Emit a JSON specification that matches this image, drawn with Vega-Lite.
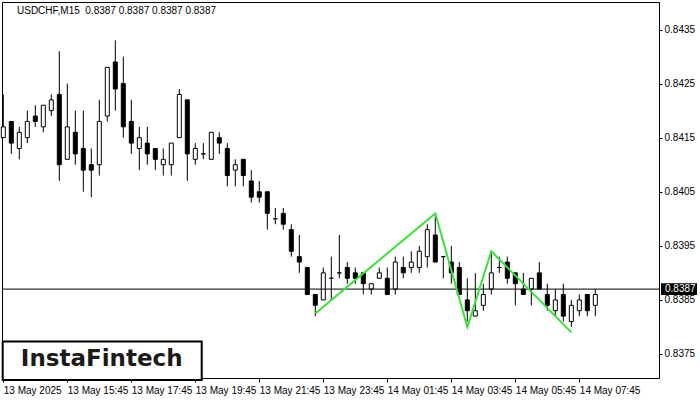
{
 "$schema": "https://vega.github.io/schema/vega-lite/v6.json",
 "width": 657,
 "height": 376,
 "autosize": {"type": "none"},
 "padding": {"left": 2, "top": 2, "right": 41, "bottom": 22},
 "background": "white",
 "title": {"text": "USDCHF,M15\u00a0 0.8387 0.8387 0.8387 0.8387", "anchor": "start", "frame": "group", "orient": "top", "offset": -14, "dx": 15, "font": "Liberation Sans", "fontSize": 10, "fontWeight": "normal", "color": "black"},
 "config": {
  "view": {"stroke": "black", "strokeWidth": 1},
  "axis": {"labelFont": "Liberation Sans", "labelFontSize": 10, "labelColor": "black", "tickColor": "black", "domain": false, "grid": false, "title": null}
 },
 "datasets": {
  "candles": [
   {"t":"2025-05-13T13:45:00Z","o":0.8415,"h":0.8423,"l":0.8415,"c":0.8417},
   {"t":"2025-05-13T14:00:00Z","o":0.8418,"h":0.8418,"l":0.8412,"c":0.8414},
   {"t":"2025-05-13T14:15:00Z","o":0.8413,"h":0.8417,"l":0.8411,"c":0.8416},
   {"t":"2025-05-13T14:30:00Z","o":0.8415,"h":0.8420,"l":0.8414,"c":0.8418},
   {"t":"2025-05-13T14:45:00Z","o":0.8419,"h":0.8421,"l":0.8417,"c":0.8418},
   {"t":"2025-05-13T15:00:00Z","o":0.8417,"h":0.8421,"l":0.8416,"c":0.8421},
   {"t":"2025-05-13T15:15:00Z","o":0.8420,"h":0.8423,"l":0.8419,"c":0.8422},
   {"t":"2025-05-13T15:30:00Z","o":0.8423,"h":0.8431,"l":0.8407,"c":0.8410},
   {"t":"2025-05-13T15:45:00Z","o":0.8411,"h":0.8425,"l":0.8411,"c":0.8417},
   {"t":"2025-05-13T16:00:00Z","o":0.8416,"h":0.8420,"l":0.8410,"c":0.8412},
   {"t":"2025-05-13T16:15:00Z","o":0.8413,"h":0.8420,"l":0.8405,"c":0.8409},
   {"t":"2025-05-13T16:30:00Z","o":0.8410,"h":0.8413,"l":0.8404,"c":0.8409},
   {"t":"2025-05-13T16:45:00Z","o":0.8410,"h":0.8422,"l":0.8408,"c":0.8418},
   {"t":"2025-05-13T17:00:00Z","o":0.8419,"h":0.8428,"l":0.8418,"c":0.8428},
   {"t":"2025-05-13T17:15:00Z","o":0.8429,"h":0.8433,"l":0.8420,"c":0.8424},
   {"t":"2025-05-13T17:30:00Z","o":0.8425,"h":0.8430,"l":0.8415,"c":0.8417},
   {"t":"2025-05-13T17:45:00Z","o":0.8418,"h":0.8422,"l":0.8412,"c":0.8414},
   {"t":"2025-05-13T18:00:00Z","o":0.8413,"h":0.8417,"l":0.8409,"c":0.8415},
   {"t":"2025-05-13T18:15:00Z","o":0.8414,"h":0.8417,"l":0.8410,"c":0.8412},
   {"t":"2025-05-13T18:30:00Z","o":0.8413,"h":0.8413,"l":0.8409,"c":0.8411},
   {"t":"2025-05-13T18:45:00Z","o":0.8410,"h":0.8413,"l":0.8408,"c":0.8411},
   {"t":"2025-05-13T19:00:00Z","o":0.8410,"h":0.8414,"l":0.8408,"c":0.8414},
   {"t":"2025-05-13T19:15:00Z","o":0.8415,"h":0.8424,"l":0.8415,"c":0.8423},
   {"t":"2025-05-13T19:30:00Z","o":0.8422,"h":0.8422,"l":0.8407,"c":0.8412},
   {"t":"2025-05-13T19:45:00Z","o":0.8411,"h":0.8414,"l":0.8410,"c":0.8413},
   {"t":"2025-05-13T20:00:00Z","o":0.8412,"h":0.8414,"l":0.8411,"c":0.8412},
   {"t":"2025-05-13T20:15:00Z","o":0.8411,"h":0.8416,"l":0.8411,"c":0.8416},
   {"t":"2025-05-13T20:30:00Z","o":0.8415,"h":0.8416,"l":0.8412,"c":0.8414},
   {"t":"2025-05-13T20:45:00Z","o":0.8413,"h":0.8414,"l":0.8406,"c":0.8408},
   {"t":"2025-05-13T21:00:00Z","o":0.8409,"h":0.8411,"l":0.8406,"c":0.8410},
   {"t":"2025-05-13T21:15:00Z","o":0.8411,"h":0.8411,"l":0.8406,"c":0.8408},
   {"t":"2025-05-13T21:30:00Z","o":0.8407,"h":0.8409,"l":0.8403,"c":0.8404},
   {"t":"2025-05-13T21:45:00Z","o":0.8405,"h":0.8407,"l":0.8403,"c":0.8404},
   {"t":"2025-05-13T22:00:00Z","o":0.8405,"h":0.8405,"l":0.8398,"c":0.8401},
   {"t":"2025-05-13T22:15:00Z","o":0.8400,"h":0.8402,"l":0.8399,"c":0.8400},
   {"t":"2025-05-13T22:30:00Z","o":0.8401,"h":0.8402,"l":0.8398,"c":0.8399},
   {"t":"2025-05-13T22:45:00Z","o":0.8398,"h":0.8399,"l":0.8393,"c":0.8394},
   {"t":"2025-05-13T23:00:00Z","o":0.8393,"h":0.8397,"l":0.8390,"c":0.8392},
   {"t":"2025-05-13T23:15:00Z","o":0.8391,"h":0.8391,"l":0.8386,"c":0.8386},
   {"t":"2025-05-13T23:30:00Z","o":0.8386,"h":0.8386,"l":0.8382,"c":0.8384},
   {"t":"2025-05-13T23:45:00Z","o":0.8385,"h":0.8391,"l":0.8385,"c":0.8390},
   {"t":"2025-05-14T00:00:00Z","o":0.8389,"h":0.8393,"l":0.8385,"c":0.8389},
   {"t":"2025-05-14T00:15:00Z","o":0.8390,"h":0.8397,"l":0.8389,"c":0.8390},
   {"t":"2025-05-14T00:30:00Z","o":0.8391,"h":0.8392,"l":0.8388,"c":0.8389},
   {"t":"2025-05-14T00:45:00Z","o":0.8390,"h":0.8391,"l":0.8388,"c":0.8389},
   {"t":"2025-05-14T01:00:00Z","o":0.8390,"h":0.8390,"l":0.8386,"c":0.8388},
   {"t":"2025-05-14T01:15:00Z","o":0.8387,"h":0.8388,"l":0.8386,"c":0.8388},
   {"t":"2025-05-14T01:30:00Z","o":0.8389,"h":0.8391,"l":0.8389,"c":0.8390},
   {"t":"2025-05-14T01:45:00Z","o":0.8389,"h":0.8391,"l":0.8386,"c":0.8386},
   {"t":"2025-05-14T02:00:00Z","o":0.8387,"h":0.8393,"l":0.8386,"c":0.8392},
   {"t":"2025-05-14T02:15:00Z","o":0.8391,"h":0.8393,"l":0.8389,"c":0.8390},
   {"t":"2025-05-14T02:30:00Z","o":0.8391,"h":0.8394,"l":0.8390,"c":0.8392},
   {"t":"2025-05-14T02:45:00Z","o":0.8391,"h":0.8395,"l":0.8390,"c":0.8394},
   {"t":"2025-05-14T03:00:00Z","o":0.8393,"h":0.8399,"l":0.8391,"c":0.8398},
   {"t":"2025-05-14T03:15:00Z","o":0.8397,"h":0.8401,"l":0.8392,"c":0.8392},
   {"t":"2025-05-14T03:30:00Z","o":0.8393,"h":0.8393,"l":0.8389,"c":0.8393},
   {"t":"2025-05-14T03:45:00Z","o":0.8392,"h":0.8395,"l":0.8388,"c":0.8390},
   {"t":"2025-05-14T04:00:00Z","o":0.8391,"h":0.8392,"l":0.8386,"c":0.8386},
   {"t":"2025-05-14T04:15:00Z","o":0.8385,"h":0.8389,"l":0.8381,"c":0.8383},
   {"t":"2025-05-14T04:30:00Z","o":0.8382,"h":0.8390,"l":0.8382,"c":0.8383},
   {"t":"2025-05-14T04:45:00Z","o":0.8384,"h":0.8388,"l":0.8383,"c":0.8386},
   {"t":"2025-05-14T05:00:00Z","o":0.8387,"h":0.8394,"l":0.8386,"c":0.8390},
   {"t":"2025-05-14T05:15:00Z","o":0.8391,"h":0.8393,"l":0.8390,"c":0.8391},
   {"t":"2025-05-14T05:30:00Z","o":0.8392,"h":0.8393,"l":0.8388,"c":0.8389},
   {"t":"2025-05-14T05:45:00Z","o":0.8390,"h":0.8390,"l":0.8384,"c":0.8388},
   {"t":"2025-05-14T06:00:00Z","o":0.8387,"h":0.8390,"l":0.8386,"c":0.8386},
   {"t":"2025-05-14T06:15:00Z","o":0.8387,"h":0.8389,"l":0.8384,"c":0.8389},
   {"t":"2025-05-14T06:30:00Z","o":0.8390,"h":0.8392,"l":0.8387,"c":0.8387},
   {"t":"2025-05-14T06:45:00Z","o":0.8386,"h":0.8388,"l":0.8383,"c":0.8384},
   {"t":"2025-05-14T07:00:00Z","o":0.8383,"h":0.8387,"l":0.8382,"c":0.8385},
   {"t":"2025-05-14T07:15:00Z","o":0.8386,"h":0.8388,"l":0.8381,"c":0.8382},
   {"t":"2025-05-14T07:30:00Z","o":0.8381,"h":0.8385,"l":0.8380,"c":0.8384},
   {"t":"2025-05-14T07:45:00Z","o":0.8383,"h":0.8386,"l":0.8382,"c":0.8385},
   {"t":"2025-05-14T08:00:00Z","o":0.8386,"h":0.8386,"l":0.8382,"c":0.8383},
   {"t":"2025-05-14T08:15:00Z","o":0.8384,"h":0.8387,"l":0.8382,"c":0.8386}
  ],
  "pattern": [
   {"t":"2025-05-13T23:30:00Z","p":0.83825},
   {"t":"2025-05-14T03:15:00Z","p":0.8401},
   {"t":"2025-05-14T04:15:00Z","p":0.8380},
   {"t":"2025-05-14T05:00:00Z","p":0.8394},
   {"t":"2025-05-14T07:30:00Z","p":0.8379}
  ],
  "one": [{}]
 },
 "layer": [
  {
   "data": {"name": "candles"},
   "mark": {"type": "rule", "color": "black", "strokeWidth": 1},
   "encoding": {
    "x": {"field": "t", "type": "temporal",
     "scale": {"type": "utc", "padding": 0, "domain": [
      {"year": 2025, "month": 5, "date": 13, "hours": 13, "minutes": 42, "seconds": 34, "utc": true},
      {"year": 2025, "month": 5, "date": 14, "hours": 10, "minutes": 14, "seconds": 24, "utc": true}]},
     "axis": {
      "values": [
       {"year": 2025, "month": 5, "date": 13, "hours": 13, "minutes": 45, "utc": true},
       {"year": 2025, "month": 5, "date": 13, "hours": 15, "minutes": 45, "utc": true},
       {"year": 2025, "month": 5, "date": 13, "hours": 17, "minutes": 45, "utc": true},
       {"year": 2025, "month": 5, "date": 13, "hours": 19, "minutes": 45, "utc": true},
       {"year": 2025, "month": 5, "date": 13, "hours": 21, "minutes": 45, "utc": true},
       {"year": 2025, "month": 5, "date": 13, "hours": 23, "minutes": 45, "utc": true},
       {"year": 2025, "month": 5, "date": 14, "hours": 1, "minutes": 45, "utc": true},
       {"year": 2025, "month": 5, "date": 14, "hours": 3, "minutes": 45, "utc": true},
       {"year": 2025, "month": 5, "date": 14, "hours": 5, "minutes": 45, "utc": true},
       {"year": 2025, "month": 5, "date": 14, "hours": 7, "minutes": 45, "utc": true}],
      "labelExpr": "utcFormat(datum.value, '%d %H:%M') == '13 13:45' ? '13 May 2025' : utcFormat(datum.value, '%d %b %H:%M')",
      "tickSize": 4, "labelAlign": "left", "labelBaseline": "top", "labelPadding": 3, "labelOverlap": false, "labelFlush": false, "labelBound": false
     }},
    "y": {"field": "l", "type": "quantitative",
     "scale": {"domain": [0.837056, 0.844009], "zero": false, "nice": false, "padding": 0},
     "axis": {"orient": "right", "values": [0.8375, 0.8385, 0.8395, 0.8405, 0.8415, 0.8425, 0.8435], "format": ".4f", "tickSize": 3, "labelPadding": 2}},
    "y2": {"field": "h"}
   }
  },
  {
   "data": {"name": "candles"},
   "mark": {"type": "bar", "width": 4, "stroke": "black", "strokeWidth": 1},
   "encoding": {
    "x": {"field": "t", "type": "temporal"},
    "y": {"field": "o", "type": "quantitative"},
    "y2": {"field": "c"},
    "fill": {"condition": {"test": "datum.c >= datum.o", "value": "white"}, "value": "black"}
   }
  },
  {
   "data": {"name": "one"},
   "mark": {"type": "rule", "color": "black", "strokeWidth": 1},
   "encoding": {"y": {"datum": 0.8387, "type": "quantitative"}}
  },
  {
   "data": {"name": "pattern"},
   "mark": {"type": "line", "color": "#3ae23a", "strokeWidth": 2},
   "encoding": {
    "x": {"field": "t", "type": "temporal"},
    "y": {"field": "p", "type": "quantitative"}
   }
  },
  {
   "data": {"name": "one"},
   "mark": {"type": "rect", "fill": "white", "stroke": "black", "strokeWidth": 2},
   "encoding": {
    "x": {"datum": {"year": 2025, "month": 5, "date": 13, "hours": 13, "minutes": 43, "seconds": 53, "utc": true}, "type": "temporal"},
    "x2": {"datum": {"year": 2025, "month": 5, "date": 13, "hours": 19, "minutes": 57, "utc": true}},
    "y": {"datum": 0.83773, "type": "quantitative"},
    "y2": {"datum": 0.83702}
   }
  },
  {
   "data": {"name": "one"},
   "mark": {"type": "text", "text": "InstaFintech", "font": "DejaVu Sans", "fontSize": 23, "fontWeight": "bold", "align": "center", "baseline": "middle", "color": "#1a1a1a"},
   "encoding": {
    "x": {"datum": {"year": 2025, "month": 5, "date": 13, "hours": 16, "minutes": 49, "seconds": 30, "utc": true}, "type": "temporal"},
    "y": {"datum": 0.83741, "type": "quantitative"}
   }
  },
  {
   "data": {"name": "one"},
   "mark": {"type": "rect", "fill": "black"},
   "encoding": {
    "x": {"datum": {"year": 2025, "month": 5, "date": 14, "hours": 10, "minutes": 18, "seconds": 9, "utc": true}, "type": "temporal"},
    "x2": {"datum": {"year": 2025, "month": 5, "date": 14, "hours": 11, "minutes": 25, "seconds": 39, "utc": true}},
    "y": {"datum": 0.83859, "type": "quantitative"},
    "y2": {"datum": 0.83881}
   }
  },
  {
   "data": {"name": "one"},
   "mark": {"type": "text", "text": "0.8387", "font": "Liberation Sans", "fontSize": 10, "align": "left", "baseline": "middle", "color": "white"},
   "encoding": {
    "x": {"datum": {"year": 2025, "month": 5, "date": 14, "hours": 10, "minutes": 25, "seconds": 39, "utc": true}, "type": "temporal"},
    "y": {"datum": 0.8387, "type": "quantitative"}
   }
  }
 ]
}
